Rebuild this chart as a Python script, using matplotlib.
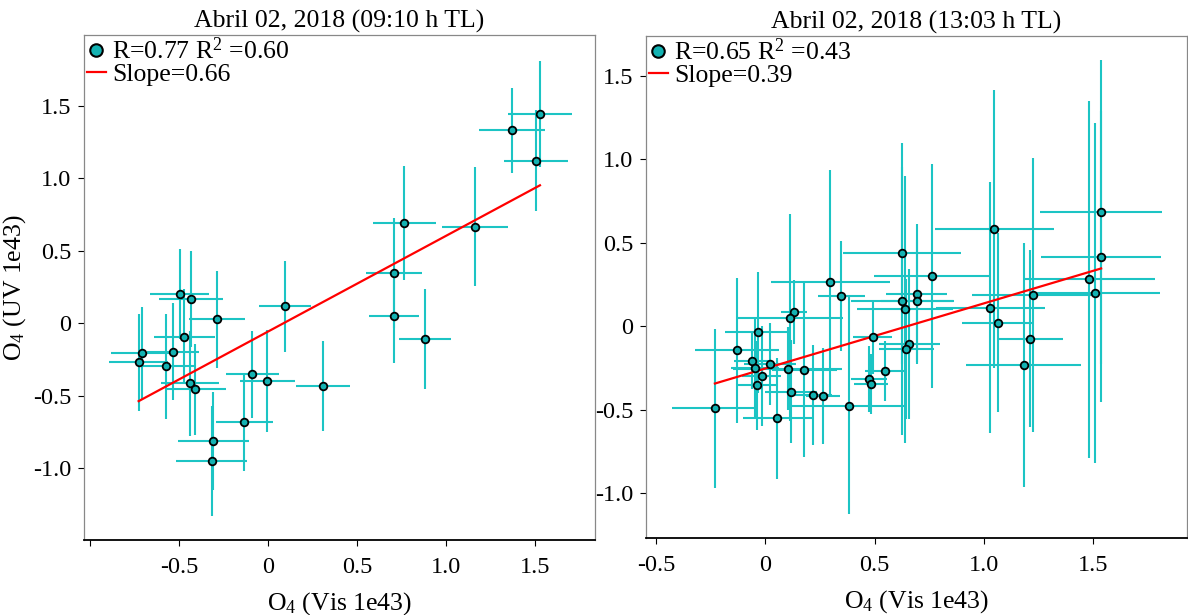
import numpy as np
import matplotlib
matplotlib.use('Agg')
import matplotlib.pyplot as plt
from matplotlib.lines import Line2D

plt.rcParams['font.family'] = ['Liberation Serif', 'DejaVu Serif']
plt.rcParams['mathtext.default'] = 'regular'
plt.rcParams['axes.unicode_minus'] = False

# 09:10 h
x1 = [1.528, 1.371, 1.504, 0.766, 1.163, 0.708, 0.708, 0.882, 0.096, 0.309, -0.004, -0.088, -0.133,
      -0.307, -0.316, -0.285, -0.496, -0.433, -0.470, -0.534, -0.708, -0.727, -0.575, -0.438, -0.408]
y1 = [1.441, 1.331, 1.121, 0.692, 0.666, 0.347, 0.050, -0.108, 0.117, -0.434, -0.398, -0.350, -0.683,
      -0.812, -0.950, 0.028, 0.200, 0.170, -0.092, -0.196, -0.205, -0.270, -0.297, -0.414, -0.455]
xerr1 = [0.18, 0.187, 0.18, 0.176, 0.187, 0.16, 0.143, 0.147, 0.148, 0.15, 0.156, 0.149, 0.16,
         0.2, 0.2, 0.158, 0.167, 0.18, 0.171, 0.148, 0.175, 0.166, 0.157, 0.162, 0.17]
yerr1 = [0.365, 0.293, 0.347, 0.39, 0.41, 0.377, 0.324, 0.344, 0.316, 0.31, 0.35, 0.3, 0.336,
         0.34, 0.377, 0.336, 0.31, 0.33, 0.328, 0.336, 0.316, 0.337, 0.36, 0.364, 0.314]
slope1, icpt1 = 0.66, -0.057

# 13:03 h
x2 = [1.536, 1.482, 1.509, 1.223, 1.029, 1.062, 1.212, 1.182, 0.760, 0.692, 0.695, 0.626, 0.638, 0.624,
      0.659, 0.645, 0.491, 0.547, 0.475, 0.482, 0.381, 0.297, 0.348, 0.131, 0.113, -0.032, -0.130,
      -0.060, -0.046, 0.021, 0.102, 0.178, -0.017, -0.037, 0.117, 0.216, 0.264, -0.231, 0.055, 1.048, 1.535]
y2 = [0.416, 0.281, 0.199, 0.187, 0.111, 0.021, -0.075, -0.232, 0.302, 0.191, 0.151, 0.151, 0.101, 0.436,
      -0.108, -0.137, -0.067, -0.266, -0.316, -0.346, -0.476, 0.263, 0.181, 0.085, 0.051, -0.037, -0.144,
      -0.208, -0.250, -0.224, -0.254, -0.262, -0.296, -0.354, -0.392, -0.414, -0.418, -0.490, -0.552, 0.582, 0.686]
xerr2 = [0.276, 0.30, 0.294, 0.28, 0.25, 0.161, 0.151, 0.264, 0.265, 0.14, 0.165, 0.236, 0.219, 0.27,
         0.14, 0.127, 0.088, 0.093, 0.083, 0.077, 0.257, 0.271, 0.109, 0.058, 0.244, 0.151, 0.19,
         0.085, 0.11, 0.12, 0.25, 0.15, 0.09, 0.09, 0.118, 0.09, 0.076, 0.197, 0.156, 0.273, 0.281]
yerr2 = [0.87, 1.068, 1.015, 0.82, 0.75, 0.536, 0.53, 0.73, 0.67, 0.42, 0.365, 0.80, 0.80, 0.66,
         0.45, 0.42, 0.22, 0.18, 0.20, 0.18, 0.65, 0.675, 0.33, 0.19, 0.62, 0.363, 0.434,
         0.17, 0.30, 0.245, 0.25, 0.52, 0.30, 0.265, 0.31, 0.30, 0.29, 0.476, 0.36, 0.83, 0.91]
slope2, icpt2 = 0.39, -0.253

titles = ['Abril 02, 2018 (09:10 h TL)', 'Abril 02, 2018 (13:03 h TL)']
labels_r = ['R=0.77 R$^2$ =0.60', 'R=0.65 R$^2$ =0.43']
labels_s = ['Slope=0.66', 'Slope=0.39']

ecol = '#1cc4c4'
mcol = '#14b2b2'

fig = plt.figure(figsize=(11.88, 6.15), dpi=100)
ax1 = fig.add_axes([0.0707, 0.1220, 0.4301, 0.8211])
ax2 = fig.add_axes([0.5438, 0.1252, 0.4554, 0.8163])

sets = [(ax1, x1, y1, xerr1, yerr1, slope1, icpt1), (ax2, x2, y2, xerr2, yerr2, slope2, icpt2)]
for i, (ax, x, y, xe, ye, sl, ic) in enumerate(sets):
    ax.errorbar(x, y, xerr=xe, yerr=ye, fmt='none', ecolor=ecol, elinewidth=1.5, capsize=0, zorder=2)
    xx = np.array([min(x), max(x)])
    ax.plot(xx, sl * xx + ic, color='red', lw=1.6, zorder=3)
    ax.plot(x, y, 'o', ms=5.5, mfc=mcol, mec='black', mew=1.3, zorder=4)
    ax.set_title(titles[i], fontsize=18.5, pad=5)
    h = [Line2D([], [], marker='o', ls='none', ms=9, mfc=mcol, mec='black', mew=1.5),
         Line2D([], [], color='red', lw=1.6)]
    ax.legend(h, [labels_r[i], labels_s[i]], loc='upper left', frameon=False, fontsize=18.5,
              handlelength=0.75, handletextpad=0.25, labelspacing=-0.05, borderpad=0.1, borderaxespad=0.0)
    ax.set_xlabel('O$_4$ (Vis 1e43)', fontsize=18.5, labelpad=9)
    for s in ['left', 'top', 'right']:
        ax.spines[s].set_color('#888888')
        ax.spines[s].set_linewidth(0.9)
    ax.spines['bottom'].set_color('black')
    ax.spines['bottom'].set_linewidth(1.3)
    ax.tick_params(labelsize=17.5, length=4, width=0.8, direction='out', pad=5)
    ax.tick_params(axis='x', pad=8)

ax1.set_xlim(-1.034, 1.837)
ax1.set_ylim(-1.494, 1.988)
ax1.set_xticks([-1.0, -0.5, 0, 0.5, 1.0, 1.5])
ax1.set_xticklabels(['', '-0.5', '0', '0.5', '1.0', '1.5'])
ax1.set_yticks([-1.0, -0.5, 0, 0.5, 1.0, 1.5])
ax1.set_yticklabels(['-1.0', '-0.5', '0', '0.5', '1.0', '1.5'])
ax1.set_ylabel('O$_4$ (UV 1e43)', fontsize=18.5)
ax1.yaxis.set_label_coords(-0.11, 0.5)

ax2.set_xlim(-0.546, 1.929)
ax2.set_ylim(-1.268, 1.738)
ax2.set_xticks([-0.5, 0, 0.5, 1.0, 1.5])
ax2.set_xticklabels(['-0.5', '0', '0.5', '1.0', '1.5'])
ax2.set_yticks([-1.0, -0.5, 0, 0.5, 1.0, 1.5])
ax2.set_yticklabels(['-1.0', '-0.5', '0', '0.5', '1.0', '1.5'])

fig.savefig('out.png', dpi=100)
